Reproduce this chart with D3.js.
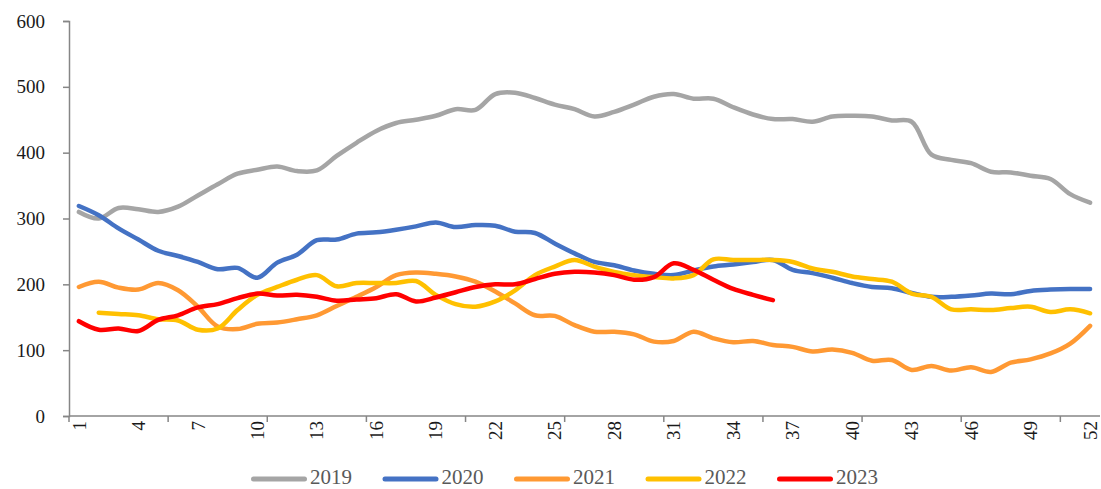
<!DOCTYPE html>
<html>
<head>
<meta charset="utf-8">
<script src="https://cdn.jsdelivr.net/npm/d3@7"></script>
<style>
  body { margin: 0; background: #fff; }
  svg { display: block; font-family: 'Liberation Serif', 'Times New Roman', serif; }
</style>
</head>
<body>
<svg id="chart" width="1101" height="489"></svg>
<script>
const weeks = d3.range(1, 53);
const yTicks = [0, 100, 200, 300, 400, 500, 600];

// weekly values per year
const s2019 = [310, 300, 316, 314, 310, 318, 335, 352, 368, 374, 379, 372, 373, 395, 415, 433,
  445, 450, 456, 466, 465, 489, 491, 483, 473, 466, 455, 462, 473, 485, 489, 482, 482, 469,
  458, 451, 451, 447, 455, 456, 455, 449, 447, 397, 389, 384, 371, 370, 365, 360, 337, 324];
const s2020 = [319, 305, 285, 268, 251, 243, 234, 223, 225, 210, 233, 245, 267, 268, 277, 279,
  283, 288, 294, 287, 290, 289, 280, 278, 262, 247, 234, 229, 221, 216, 214, 221, 227, 230,
  234, 237, 222, 217, 210, 202, 196, 194, 187, 181, 181, 183, 186, 185, 190, 192, 193, 193];
const s2021 = [196, 204, 195, 192, 202, 191, 166, 136, 132, 140, 142, 147, 153, 167, 181, 196,
  214, 218, 216, 212, 204, 189, 171, 153, 152, 138, 128, 128, 124, 113, 114, 128, 118, 112,
  114, 108, 105, 98, 101, 96, 84, 85, 70, 76, 69, 74, 67, 81, 86, 95, 110, 137];
const s2022 = [null, 157, 155, 153, 147, 145, 131, 133, 161, 184, 196, 207, 214, 197, 202, 202,
  202, 205, 184, 170, 166, 174, 191, 214, 227, 237, 227, 219, 214, 211, 209, 214, 238, 237,
  237, 237, 234, 224, 219, 212, 208, 204, 186, 181, 162, 162, 161, 164, 166, 158, 162, 156];
const s2023 = [144, 131, 133, 129, 146, 153, 165, 170, 179, 186, 183, 184, 181, 175, 177, 179,
  185, 174, 180, 188, 196, 200, 200, 208, 216, 219, 218, 214, 207, 211, 232, 222, 207, 193,
  184, 176];

const seriesNames = ['2019', '2020', '2021', '2022', '2023'];
const seriesValues = [s2019, s2020, s2021, s2022, s2023];
const seriesColors = ['#A5A5A5', '#4472C4', '#FF9933', '#FFC000', '#FF0000'];

const svg = d3.select('#chart');
const margin = { left: 69, right: 1100, top: 21, bottom: 416 };

const x = d3.scaleBand().domain(weeks).range([margin.left, margin.right]);
const y = d3.scaleLinear().domain([0, 600]).range([margin.bottom, margin.top]);
const axisColor = '#868686';
const serif = "'Liberation Serif', 'Times New Roman', serif";

// y axis
const yAxis = svg.append('g')
  .attr('transform', `translate(${margin.left},0)`)
  .call(d3.axisLeft(y).tickValues(yTicks).tickSize(6).tickPadding(18));
yAxis.attr('font-family', serif).attr('font-size', 19);
yAxis.select('.domain').attr('stroke', axisColor).attr('stroke-width', 1.5);
yAxis.selectAll('.tick line').attr('stroke', axisColor).attr('stroke-width', 1.5);
yAxis.selectAll('.tick text').attr('fill', '#1a1a1a');

// x axis line and ticks every 5 weeks
const xg = svg.append('g').attr('font-family', serif);
xg.append('line')
  .attr('x1', margin.left).attr('x2', margin.right)
  .attr('y1', margin.bottom).attr('y2', margin.bottom)
  .attr('stroke', axisColor).attr('stroke-width', 1.5);
xg.selectAll('line.tk')
  .data(weeks.filter(w => (w - 1) % 5 === 0))
  .join('line')
  .attr('class', 'tk')
  .attr('x1', d => x(d)).attr('x2', d => x(d))
  .attr('y1', margin.bottom).attr('y2', margin.bottom + 6)
  .attr('stroke', axisColor).attr('stroke-width', 1.5);
xg.selectAll('text')
  .data(weeks.filter(w => (w - 1) % 3 === 0))
  .join('text')
  .attr('transform', d => `translate(${x(d) + x.bandwidth() / 2},${margin.bottom + 5}) rotate(-90)`)
  .attr('text-anchor', 'end')
  .attr('dy', '0.35em')
  .attr('font-size', 19)
  .attr('fill', '#1a1a1a')
  .text(d => d);

// lines
const line = d3.line()
  .defined(d => d.v != null)
  .x(d => x(d.w) + x.bandwidth() / 2)
  .y(d => y(d.v))
  .curve(d3.curveCatmullRom.alpha(0.5));

seriesValues.forEach((vals, i) => {
  const pts = vals.map((v, j) => ({ w: weeks[j], v }));
  svg.append('path')
    .datum(pts)
    .attr('fill', 'none')
    .attr('stroke', seriesColors[i])
    .attr('stroke-width', 4.5)
    .attr('stroke-linejoin', 'round')
    .attr('stroke-linecap', 'round')
    .attr('d', line);
});

// legend
const legend = svg.append('g').attr('transform', 'translate(251,478)');
const item = legend.selectAll('g')
  .data(seriesNames)
  .join('g')
  .attr('transform', (d, i) => `translate(${i * 131.5},0)`);
item.append('line')
  .attr('x1', 2.5).attr('x2', 53.5)
  .attr('y1', 1).attr('y2', 1)
  .attr('stroke', (d, i) => seriesColors[i])
  .attr('stroke-width', 5)
  .attr('stroke-linecap', 'round');
item.append('text')
  .attr('x', 59)
  .attr('dy', '0.3em')
  .attr('font-size', 21)
  .attr('fill', '#595959')
  .text(d => d);
</script>
</body>
</html>
